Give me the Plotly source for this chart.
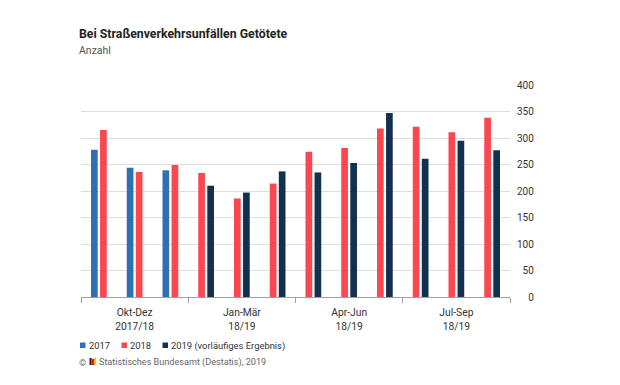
import plotly.graph_objects as go

months = ["Okt", "Nov", "Dez", "Jan", "Feb", "Mär", "Apr", "Mai", "Jun", "Jul", "Aug", "Sep"]
groups = ["Okt-Dez<br>2017/18", "Jan-Mär<br>18/19", "Apr-Jun<br>18/19", "Jul-Sep<br>18/19"]
v2017 = [278, 244, 239, None, None, None, None, None, None, None, None, None]
v2018 = [315, 236, 249, 234, 186, 214, 274, 281, 318, 321, 311, 338]
v2019 = [None, None, None, 210, 197, 237, 235, 253, 347, 261, 295, 277]
series = [("2017", v2017, "#2e70b6"), ("2018", v2018, "#fc4650"),
          ("2019 (vorläufiges Ergebnis)", v2019, "#13304f")]
y_ticks = [0, 50, 100, 150, 200, 250, 300, 350, 400]

FONT = "Roboto"
BW = 0.187
GAP = 0.066
x = list(range(len(months)))

W, H = 620, 385
ML, MR, MT, MB = 81, 110, 85, 88
PW, PH = W - ML - MR, H - MT - MB

fig = go.Figure()
for si, (name, vals, col) in enumerate(series):
    offs = []
    for i in range(len(months)):
        present = [k for k, (_, vv, _) in enumerate(series) if vv[i] is not None]
        pos = present.index(si) if si in present else 0
        offs.append(-(BW + GAP / 2) if pos == 0 else GAP / 2)
    fig.add_trace(go.Bar(x=x, y=vals, name=name, marker_color=col, marker_line_width=0,
                         width=BW, offset=offs, showlegend=False, hoverinfo="skip"))

n_per = 3
centers = [g * n_per + (n_per - 1) / 2 for g in range(len(groups))]
bounds = [g * n_per - 0.5 for g in range(len(groups) + 1)]

fig.update_layout(
    width=W, height=H,
    margin=dict(l=ML, r=MR, t=MT, b=MB),
    paper_bgcolor="white", plot_bgcolor="white",
    barmode="overlay",
    font=dict(family=FONT, size=10, color="#333333"),
    xaxis=dict(range=[-0.5, 11.5], tickmode="array", tickvals=centers, ticktext=groups,
               ticks="", showgrid=False, zeroline=False, showline=True, linecolor="#a0a0a0",
               linewidth=1, tickfont=dict(size=10.3, color="#333333"), ticklabelstandoff=6,
               minor=dict(tickmode="array", tickvals=bounds, ticks="outside", ticklen=5,
                          tickcolor="#a0a0a0", showgrid=False)),
    yaxis=dict(range=[0, 400], side="right", tickmode="array", tickvals=y_ticks,
               ticktext=[("\u2007" * (3 - len(str(v)))) + str(v) for v in y_ticks],
               showgrid=True, gridcolor="#dedede", gridwidth=1, zeroline=False,
               ticks="", showline=False, tickfont=dict(size=10, color="#333333"),
               ticklabelstandoff=6),
)


def pxx(xp):
    return (xp - ML) / PW


def pxy(yp):
    return (H - MB - yp) / PH


def ann(text, xp, yp, size, color, bold=False):
    fig.add_annotation(x=pxx(xp), y=pxy(yp), xref="paper", yref="paper",
                       text=f"<b>{text}</b>" if bold else text, showarrow=False,
                       xanchor="left", yanchor="middle", xshift=0,
                       font=dict(size=size, color=color, family=FONT))


ann("Bei Straßenverkehrsunfällen Getötete", 77, 34, 12.3, "#222222", bold=True)
ann("Anzahl", 77, 50, 10.5, "#555555")

# legend
leg_x = [80, 121.5, 162.5]
for (name, _, col), lx in zip(series, leg_x):
    fig.add_shape(type="rect", xref="paper", yref="paper", x0=pxx(lx), x1=pxx(lx + 5.5),
                  y0=pxy(348), y1=pxy(342.5), fillcolor=col, line_width=0)
    ann(name, lx + 6.5, 345.5, 9.4, "#333333")

# source
ann("©", 77, 362, 9.2, "#666666")
for i, c in enumerate(["#222222", "#e3001b", "#f2c500"]):
    xs = 89.5 + i * 2.3
    fig.add_shape(type="rect", xref="paper", yref="paper",
                  x0=pxx(xs), x1=pxx(xs + 2.1),
                  y0=pxy(365), y1=pxy(358 + (i % 2)),
                  fillcolor=c, line_width=0)
ann("Statistisches Bundesamt (Destatis), 2019", 97, 362, 9.1, "#666666")

fig.write_html("out.html", config={"displayModeBar": False},
               post_script="document.body.style.margin='0';document.body.style.padding='0';")
